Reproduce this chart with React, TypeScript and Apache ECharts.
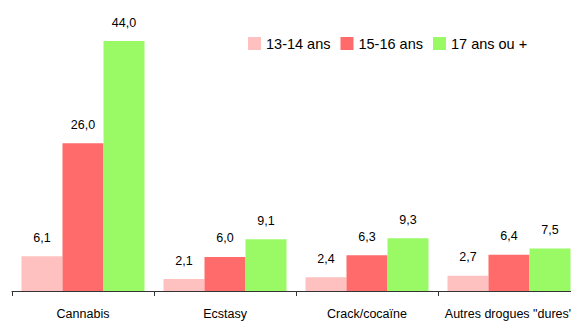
import React, { useEffect, useRef } from "react";
import * as echarts from "echarts";

const categories = ["Cannabis", "Ecstasy", "Crack/cocaïne", 'Autres drogues "dures"'];
const seriesNames = ["13-14 ans", "15-16 ans", "17 ans ou +"];
const age1314 = [6.1, 2.1, 2.4, 2.7];
const age1516 = [26.0, 6.0, 6.3, 6.4];
const age17 = [44.0, 9.1, 9.3, 7.5];
const colors = ["#FFC0C0", "#FF6A6A", "#99FA66"];

const FONT = "Liberation Sans, Arial, sans-serif";

export default function App() {
  const ref = useRef<HTMLDivElement>(null);
  useEffect(() => {
    document.body.style.margin = "0";
    const chart = echarts.init(ref.current!, null, { renderer: "svg" });
    const data = [age1314, age1516, age17];
    chart.setOption({
      animation: false,
      textStyle: { fontFamily: FONT },
      legend: {
        left: 243,
        top: 31,
        itemWidth: 13,
        itemHeight: 13,
        itemGap: 10,
        icon: "rect",
        textStyle: { fontSize: 14.5, color: "#000", fontFamily: FONT },
        data: seriesNames,
      },
      grid: {
        left: 12,
        width: 568,
        top: 7,
        height: 284,
        containLabel: false,
        outerBoundsMode: "none",
      },
      xAxis: {
        type: "category",
        data: categories,
        axisLine: { show: true, lineStyle: { color: "#333", width: 1 } },
        axisTick: { show: true, length: 5, inside: false, lineStyle: { color: "#333" } },
        axisLabel: { color: "#000", fontSize: 12.5, margin: 16, fontFamily: FONT, interval: 0 },
      },
      yAxis: {
        type: "value",
        min: 0,
        max: 50,
        show: false,
        splitLine: { show: false },
      },
      series: seriesNames.map((name, i) => ({
        name,
        type: "bar",
        data: data[i],
        barWidth: 41,
        barGap: "0%",
        itemStyle: { color: colors[i] },
        label: {
          show: true,
          position: "top",
          distance: 12,
          color: "#000",
          fontSize: 12.5,
          fontFamily: FONT,
          formatter: (p: any) => Number(p.value).toFixed(1).replace(".", ","),
        },
      })),
    });
    return () => chart.dispose();
  }, []);
  return <div ref={ref} style={{ width: 571, height: 321 }} />;
}
